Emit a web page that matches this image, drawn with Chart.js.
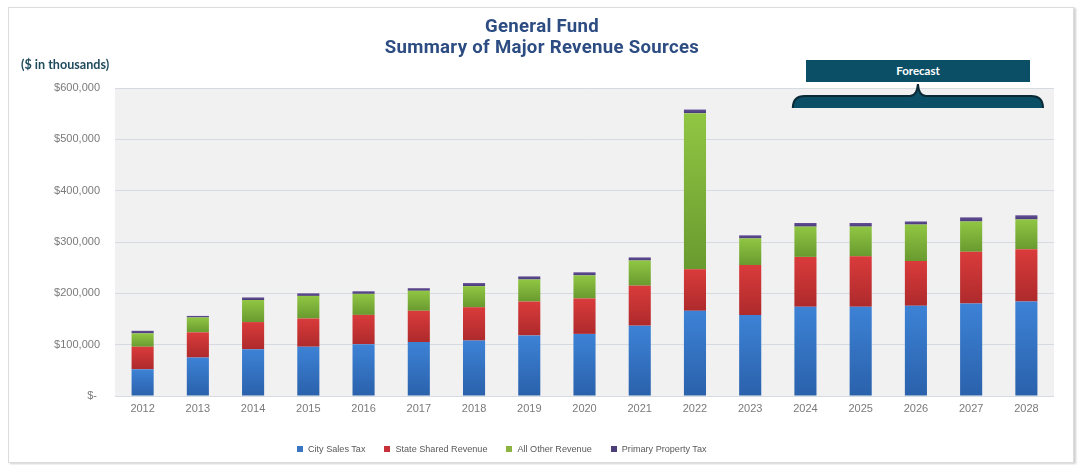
<!DOCTYPE html>
<html>
<head>
<meta charset="utf-8">
<script src="https://cdn.jsdelivr.net/npm/chart.js@4/dist/chart.umd.min.js"></script>
<style>
  html, body { margin: 0; padding: 0; background: #ffffff; }
  #wrap { position: relative; width: 1080px; height: 465px; overflow: hidden; }
  #frame { position: absolute; left: 8px; top: 7px; width: 1064px; height: 454px; border: 1px solid #dcdcdc; box-shadow: 2px 1px 2px #d0d0d0; }
  canvas { position: absolute; left: 0; top: 0; }
  .title { position: absolute; left: 0; width: 1084px; text-align: center; font-family: Roboto, "Liberation Sans", sans-serif; font-weight: 700; font-size: 18.6px; color: #2c4c82; letter-spacing: 0.3px; }
  #units { position: absolute; left: 21px; top: 57px; font-family: Lato, "Open Sans", sans-serif; font-weight: 700; font-size: 12.6px; color: #1f4b5c; }
  #forecast { position: absolute; left: 806px; top: 60px; width: 224px; height: 22px; background: #0b4f67; color: #fff; font-family: Lato, "Open Sans", sans-serif; font-weight: 700; font-size: 11.5px; line-height: 22px; text-align: center; }
  #legend { position: absolute; left: 297px; top: 444px; display: flex; font-family: "Liberation Sans", Arial, sans-serif; font-size: 9.1px; color: #595959; }
  #legend .item { display: flex; align-items: center; margin-right: 19px; }
  #legend .sw { width: 6px; height: 6px; margin-right: 5px; }
</style>
</head>
<body>
<div id="wrap">
  <div id="frame"></div>
  <canvas id="c" width="1080" height="465"></canvas>
  <div class="title" style="top:15px;">General Fund</div>
  <div class="title" style="top:36px;">Summary of Major Revenue Sources</div>
  <div id="units">($ in thousands)</div>
  <div id="forecast">Forecast</div>
  <div id="legend"></div>
</div>
<script>
const years = ["2012","2013","2014","2015","2016","2017","2018","2019","2020","2021","2022","2023","2024","2025","2026","2027","2028"];
const citySalesTax = [52000,75000,91000,96000,101000,105000,108000,118000,121000,137000,166000,158000,174000,174000,176000,180000,184000];
const stateSharedRevenue = [44000,49000,53000,55000,57000,61000,65000,66000,69000,78000,81000,97000,97000,98000,87000,101000,102000];
const allOtherRevenue = [26000,29000,43000,44000,41000,39000,41000,43000,45000,49000,304000,52000,59000,58000,71000,59000,58000];
const primaryPropertyTax = [5000,3000,5000,5000,5000,5000,6000,6000,6000,6000,7000,6000,7000,7000,6000,8000,8000];
const seriesNames = ["City Sales Tax","State Shared Revenue","All Other Revenue","Primary Property Tax"];
const yTicks = [0,100000,200000,300000,400000,500000,600000];
const forecastStart = "2024", forecastEnd = "2028";

const allSeries = [citySalesTax, stateSharedRevenue, allOtherRevenue, primaryPropertyTax];
const palette = [
  {top:"#3d82d6", bottom:"#2a61ab", legend:"#3a75c4"},
  {top:"#da3b3b", bottom:"#ae2a2c", legend:"#c8303a"},
  {top:"#90c643", bottom:"#699a2f", legend:"#8db440"},
  {top:"#624f96", bottom:"#4a3a78", legend:"#4d3f7a"}
];

function gradFor(si) {
  return function(ctx) {
    const chart = ctx.chart;
    const y = chart.scales && chart.scales.y;
    if (ctx.type !== 'data' || !y || !chart.chartArea) return palette[si].top;
    let base = 0;
    for (let k = 0; k < si; k++) base += allSeries[k][ctx.dataIndex];
    const topV = base + allSeries[si][ctx.dataIndex];
    const y0 = y.getPixelForValue(topV), y1 = y.getPixelForValue(base);
    if (!isFinite(y0) || !isFinite(y1) || y0 === y1) return palette[si].top;
    const g = chart.ctx.createLinearGradient(0, y0, 0, y1);
    g.addColorStop(0, palette[si].top);
    g.addColorStop(1, palette[si].bottom);
    return g;
  };
}

function bracePath(ctx, l, r, m, top, bot, peak) {
  ctx.beginPath();
  ctx.moveTo(l, bot);
  ctx.quadraticCurveTo(l, top, l + 12, top);
  ctx.lineTo(m - 8, top);
  ctx.quadraticCurveTo(m - 1, top, m, peak);
  ctx.quadraticCurveTo(m + 1, top, m + 8, top);
  ctx.lineTo(r - 12, top);
  ctx.quadraticCurveTo(r, top, r, bot);
}

const bgPlugin = {
  id: 'bg',
  beforeDraw(chart) {
    const {ctx, chartArea: a} = chart;
    ctx.save();
    ctx.fillStyle = '#f1f1f1';
    ctx.fillRect(a.left, a.top, a.right - a.left, a.bottom - a.top);
    ctx.restore();
  },
  afterDraw(chart) {
    const x = chart.scales.x;
    const ctx = chart.ctx;
    const half = (x.getPixelForValue(1) - x.getPixelForValue(0)) / 2;
    const l = x.getPixelForValue(years.indexOf(forecastStart)) - half + 15;
    const r = x.getPixelForValue(years.indexOf(forecastEnd)) + half - 11;
    const m = (l + r) / 2;
    const top = 96, bot = 108, peak = 84;
    ctx.save();
    bracePath(ctx, l, r, m, top, bot, peak);
    ctx.closePath();
    ctx.fillStyle = '#0b4f67';
    ctx.fill();
    bracePath(ctx, l, r, m, top, bot, peak);
    ctx.strokeStyle = '#0a2a36';
    ctx.lineWidth = 2;
    ctx.stroke();
    ctx.restore();
  }
};

const datasets = allSeries.map((arr, i) => ({
  label: seriesNames[i],
  data: arr,
  backgroundColor: gradFor(i),
  borderWidth: 0,
  barPercentage: 0.4,
  categoryPercentage: 1.0,
  stack: 's'
}));

new Chart(document.getElementById('c'), {
  type: 'bar',
  data: { labels: years, datasets },
  options: {
    responsive: false,
    animation: false,
    layout: { padding: { left: 0, right: 26, top: 88, bottom: 39 } },
    plugins: { legend: { display: false }, tooltip: { enabled: false } },
    scales: {
      x: {
        stacked: true,
        grid: { display: false, drawTicks: false },
        border: { display: false },
        ticks: { color: '#7a7a7a', font: { family: '"Liberation Sans", Arial, sans-serif', size: 11 }, padding: 6 },
        afterFit(s) { s.height = 30; }
      },
      y: {
        stacked: true,
        min: 0, max: 600000,
        afterBuildTicks(s) { s.ticks = yTicks.map(v => ({ value: v })); },
        grid: { color: '#d6dbe2', lineWidth: 1, drawTicks: false },
        border: { display: false },
        ticks: {
          color: '#7a7a7a',
          font: { family: '"Liberation Sans", Arial, sans-serif', size: 11 },
          padding: 15,
          callback: v => v === 0 ? '$- ' : '$' + Number(v).toLocaleString('en-US')
        },
        afterFit(s) { s.width = 115; }
      }
    }
  },
  plugins: [bgPlugin]
});

const lg = document.getElementById('legend');
seriesNames.forEach((n, i) => {
  const it = document.createElement('div');
  it.className = 'item';
  const sw = document.createElement('span');
  sw.className = 'sw';
  sw.style.background = palette[i].legend;
  const t = document.createElement('span');
  t.textContent = n;
  it.appendChild(sw); it.appendChild(t);
  lg.appendChild(it);
});
</script>
</body>
</html>
